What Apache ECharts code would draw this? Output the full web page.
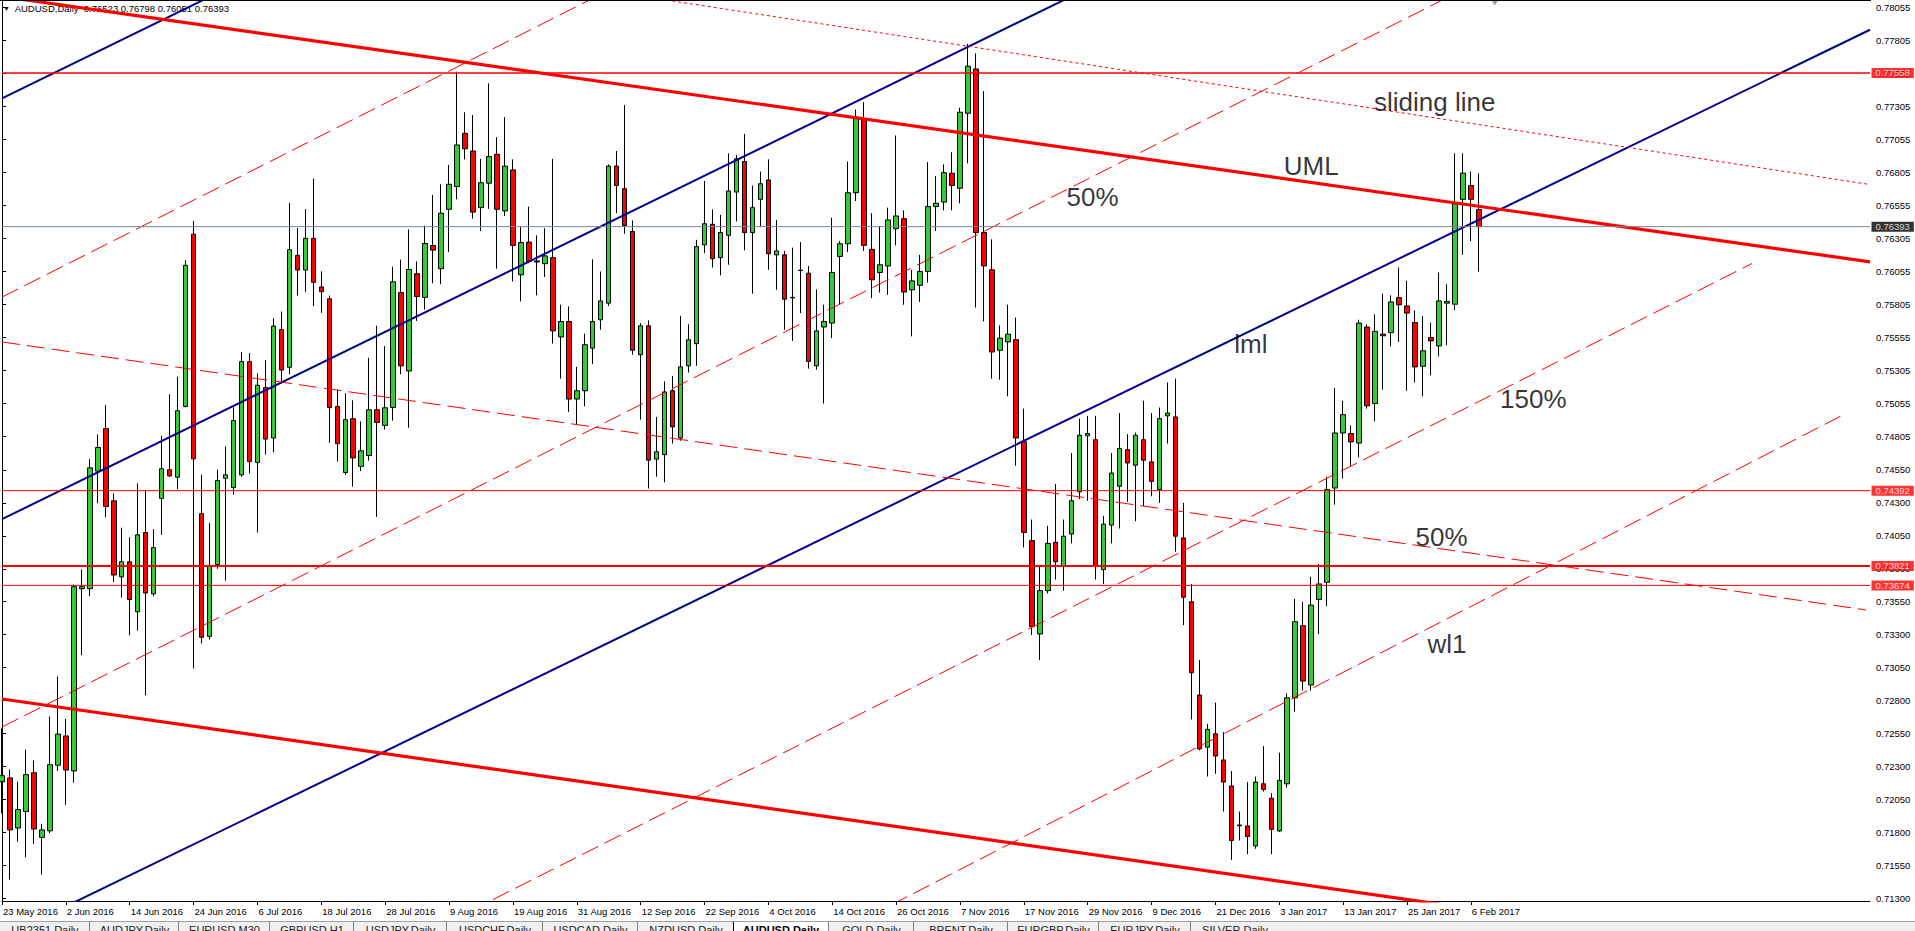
<!DOCTYPE html>
<html>
<head>
<meta charset="utf-8">
<script src="https://cdn.jsdelivr.net/npm/echarts/dist/echarts.min.js"></script>
<style>
  html, body { margin: 0; padding: 0; background: #fff; }
  #wrap { position: relative; width: 1915px; height: 931px; overflow: hidden; background: #fff; }
  #c { position: absolute; left: 0; top: 0; width: 1915px; height: 931px; }
  #topline { position: absolute; left: 0; top: 0; width: 1871px; height: 1px; background: #000; }
  #tabs { position: absolute; left: 0; top: 921px; width: 1915px; height: 10px; background: #f0f0f0;
          border-top: 1px solid #a0a0a0; overflow: hidden; font-family: "Liberation Sans", Arial, sans-serif; }
  .tab { position: absolute; top: 0; height: 12px; text-align: center; font-size: 11px; line-height: 13px;
         color: #202020; border-left: 1px solid #808080; box-sizing: border-box; padding-top: 2px; white-space: nowrap; }
  .tab.active { background: #fff; color: #000; font-weight: bold; border-left: 1px solid #000; border-right: 1px solid #000; top: -1px; padding-top: 3px; }
</style>
</head>
<body>
<div id="wrap">
  <div id="c"></div>
  <div id="topline"></div>
  <div id="tabs"></div>
</div>
<script>
// ---------- DATA ----------
const symbolName = 'AUDUSD';
const periodName = 'Daily';
const firstBarDate = '2016-05-23';
const holidays = ['2016-12-26'];
const futureSlots = 49;

const xTickLabels = ['23 May 2016','2 Jun 2016','14 Jun 2016','24 Jun 2016','6 Jul 2016','18 Jul 2016',
  '28 Jul 2016','9 Aug 2016','19 Aug 2016','31 Aug 2016','12 Sep 2016','22 Sep 2016','4 Oct 2016',
  '14 Oct 2016','26 Oct 2016','7 Nov 2016','17 Nov 2016','29 Nov 2016','9 Dec 2016','21 Dec 2016',
  '3 Jan 2017','13 Jan 2017','25 Jan 2017','6 Feb 2017'];

const yTickValues = [0.78055,0.77805,0.77555,0.77305,0.77055,0.76805,0.76555,0.76305,0.76055,0.75805,
  0.75555,0.75305,0.75055,0.74805,0.74550,0.74300,0.74050,0.73800,0.73550,0.73300,0.73050,0.72800,
  0.72550,0.72300,0.72050,0.71800,0.71550,0.71300];

const open = [
0.72186,0.72215,0.71835,0.71960,0.72254,0.71764,0.71814,0.72311,0.72533,0.72268,
0.73649,0.73649,0.74540,0.74862,0.74315,0.73739,0.73853,0.73474,0.74075,0.73610,
0.74333,0.74551,0.74494,0.75030,0.76336,0.74218,0.73288,0.73832,0.74486,0.74415,
0.74512,0.75370,0.74605,0.75173,0.74791,0.75613,0.75327,0.76175,0.76064,0.76304,
0.75936,0.75846,0.75030,0.74529,0.74937,0.74576,0.74658,0.75005,0.74887,0.75023,
0.75893,0.75299,0.76036,0.75857,0.76250,0.76074,0.76524,0.76697,0.77100,0.76966,
0.76537,0.76722,0.76941,0.76512,0.76823,0.76028,0.76276,0.76133,0.76112,0.76158,
0.75557,0.75674,0.75086,0.75149,0.75472,0.75687,0.75813,0.76852,0.76680,0.76356,
0.75422,0.75641,0.74631,0.74665,0.75149,0.74791,0.75338,0.75506,0.76255,0.76411,
0.76158,0.76327,0.76655,0.76886,0.76348,0.76600,0.76747,0.76179,0.76179,0.75853,
0.76063,0.76040,0.75338,0.75632,0.75662,0.76167,0.76263,0.76650,0.77210,0.76221,
0.76045,0.76095,0.76377,0.76453,0.75914,0.75948,0.76053,0.76545,0.76579,0.76798,
0.76684,0.77252,0.77588,0.76348,0.76066,0.75456,0.75519,0.75536,0.74762,0.74013,
0.73306,0.73634,0.74000,0.73819,0.74063,0.74383,0.74808,0.74778,0.73794,0.74131,
0.74425,0.74703,0.74585,0.74778,0.74610,0.74400,0.74959,0.74951,0.74034,0.73550,
0.72843,0.72448,0.72549,0.72351,0.72154,0.71852,0.71851,0.71699,0.72170,0.72061,
0.71813,0.72170,0.72822,0.73369,0.72919,0.73567,0.73697,0.74412,0.74829,0.74825,
0.74753,0.75632,0.75052,0.75578,0.75590,0.75855,0.75792,0.75666,0.75334,0.75552,
0.75489,0.75813,0.75805,0.76600,0.76705,0.76523];

const high = [
0.72590,0.72279,0.72186,0.72429,0.72347,0.71867,0.72680,0.72984,0.72662,0.73681,
0.73796,0.74630,0.74819,0.75041,0.74372,0.74111,0.74039,0.74447,0.74397,0.74100,
0.74808,0.75123,0.75256,0.76139,0.76436,0.74512,0.74147,0.74551,0.74726,0.75023,
0.75442,0.75435,0.75281,0.75381,0.75699,0.75750,0.76572,0.76383,0.76526,0.76758,
0.76054,0.75871,0.75159,0.75131,0.75077,0.74916,0.75399,0.75642,0.75488,0.76089,
0.76143,0.76372,0.76129,0.76401,0.76633,0.76714,0.76861,0.77567,0.77260,0.77239,
0.76907,0.77479,0.77071,0.77223,0.76903,0.76390,0.76545,0.76327,0.76381,0.76907,
0.75801,0.75788,0.75330,0.75582,0.76146,0.76053,0.76865,0.76966,0.77315,0.76440,
0.75662,0.75683,0.74951,0.75220,0.75262,0.75717,0.75653,0.76293,0.76739,0.76524,
0.76482,0.76949,0.76936,0.77096,0.76705,0.76810,0.76903,0.76444,0.76209,0.76234,
0.76276,0.76095,0.75918,0.75801,0.76461,0.76284,0.76886,0.77281,0.77336,0.76495,
0.76398,0.76537,0.77084,0.76516,0.76066,0.76179,0.76882,0.76777,0.76865,0.76957,
0.77294,0.77778,0.77706,0.77420,0.76297,0.75645,0.75801,0.75704,0.75014,0.74173,
0.73824,0.74126,0.74442,0.74173,0.74677,0.74938,0.74959,0.74959,0.74202,0.74677,
0.74980,0.74820,0.74833,0.75073,0.74980,0.75022,0.75212,0.75241,0.74299,0.73685,
0.73108,0.72625,0.72785,0.72562,0.72267,0.71960,0.72183,0.72225,0.72456,0.72099,
0.72406,0.72856,0.73571,0.73550,0.73739,0.73836,0.74497,0.75170,0.75073,0.74888,
0.75687,0.75653,0.75729,0.75885,0.75872,0.76083,0.75982,0.75759,0.75717,0.75666,
0.76045,0.75956,0.76949,0.76949,0.76810,0.76798];

const low = [
0.71946,0.71445,0.71731,0.71613,0.71714,0.71481,0.71796,0.72268,0.72011,0.72179,
0.73145,0.73592,0.74297,0.74190,0.73699,0.73581,0.73295,0.73331,0.72841,0.73592,
0.74057,0.74497,0.74404,0.75023,0.73045,0.73234,0.73263,0.73800,0.73710,0.74361,
0.74497,0.74522,0.74075,0.74665,0.74683,0.75202,0.75274,0.75871,0.75900,0.75792,
0.75739,0.74755,0.74612,0.74512,0.74422,0.74540,0.74619,0.74193,0.74855,0.74923,
0.75274,0.74869,0.75678,0.75764,0.75964,0.75956,0.76200,0.76600,0.76903,0.76453,
0.76360,0.76528,0.76074,0.76474,0.75977,0.75826,0.76116,0.75872,0.76011,0.75506,
0.75241,0.74989,0.74888,0.75031,0.75351,0.75611,0.75792,0.76495,0.76339,0.75422,
0.74930,0.74408,0.74497,0.74455,0.74749,0.74770,0.75287,0.75338,0.76192,0.76083,
0.76024,0.76104,0.76432,0.76213,0.75885,0.76390,0.76066,0.75914,0.75611,0.75527,
0.75738,0.75317,0.75309,0.75052,0.75548,0.75801,0.76200,0.76587,0.76209,0.75851,
0.75893,0.75876,0.76251,0.75801,0.75561,0.75822,0.75969,0.76360,0.76516,0.76516,
0.76570,0.76873,0.75780,0.75674,0.75241,0.75233,0.75107,0.74581,0.73962,0.73298,
0.73108,0.73613,0.73718,0.73634,0.73992,0.74328,0.74316,0.73718,0.73685,0.73992,
0.74105,0.74307,0.74160,0.74274,0.74349,0.74299,0.74749,0.73929,0.73373,0.72658,
0.72423,0.72225,0.72246,0.71960,0.71594,0.71741,0.71636,0.71678,0.72111,0.71636,
0.71805,0.72141,0.72717,0.72877,0.72877,0.73306,0.73516,0.74286,0.74484,0.74581,
0.74644,0.75014,0.74917,0.75157,0.75485,0.75519,0.75149,0.75212,0.75107,0.75266,
0.75409,0.75493,0.75759,0.76179,0.76284,0.76051];

const close = [
0.72232,0.71821,0.71975,0.72240,0.71828,0.71821,0.72315,0.72547,0.72275,0.73664,
0.73664,0.74565,0.74719,0.74272,0.73753,0.73853,0.73567,0.74057,0.73617,0.73960,
0.74558,0.74504,0.74998,0.76100,0.74633,0.73281,0.73825,0.74469,0.74512,0.74923,
0.75370,0.74612,0.75191,0.74783,0.75639,0.75306,0.76218,0.76064,0.76304,0.75971,
0.75900,0.75023,0.74748,0.74930,0.74640,0.74694,0.75005,0.74909,0.75020,0.75975,
0.75338,0.76068,0.75864,0.76265,0.76215,0.76495,0.76714,0.77012,0.76983,0.76503,
0.76726,0.76924,0.76524,0.76852,0.76251,0.76272,0.76129,0.76125,0.76171,0.75603,
0.75674,0.75086,0.75149,0.75498,0.75674,0.75830,0.76852,0.76705,0.76402,0.75456,
0.75641,0.74623,0.74686,0.75140,0.74875,0.75330,0.75536,0.76242,0.76415,0.76150,
0.76348,0.76663,0.76907,0.76348,0.76537,0.76718,0.76188,0.76209,0.75843,0.75857,
0.76060,0.75372,0.75603,0.75674,0.76045,0.76263,0.76650,0.77223,0.76251,0.75990,
0.76104,0.76444,0.76474,0.75897,0.75982,0.76053,0.76545,0.76570,0.76802,0.76705,
0.77260,0.77609,0.76348,0.76095,0.75443,0.75548,0.75578,0.74791,0.74076,0.73361,
0.73634,0.73992,0.73853,0.74047,0.74316,0.74812,0.74825,0.73819,0.74139,0.74526,
0.74711,0.74602,0.74812,0.74623,0.74463,0.74938,0.74980,0.74047,0.73584,0.73012,
0.72435,0.72583,0.72381,0.72183,0.71741,0.71858,0.71771,0.72183,0.72128,0.71825,
0.72196,0.72822,0.73399,0.72949,0.73525,0.73685,0.74400,0.74829,0.74968,0.74762,
0.75662,0.75035,0.75599,0.75565,0.75822,0.75801,0.75738,0.75330,0.75452,0.75527,
0.75830,0.75826,0.76566,0.76798,0.76600,0.76393];

// horizontal price levels
const levelPrices = [0.77558, 0.76393, 0.74392, 0.73821, 0.73674];

// trend lines: [[barIndex, price], [barIndex, price]]
const blueLines = [
  [[0, 0.77365], [234, 0.84284]],
  [[0, 0.74176], [234, 0.81097]],
  [[0, 0.71006], [234, 0.77885]]
];
const redThickLines = [
  [[0, 0.78137], [234, 0.76126]],
  [[0, 0.72813], [234, 0.70793]]
];
const redDashedLines = [
  [[0, 0.75519], [233.5, 0.73488]],
  [[0, 0.75859], [234, 0.83019]],
  [[0, 0.72601], [234, 0.79746]],
  [[0, 0.69413], [219.2, 0.76113]],
  [[0, 0.67782], [230.3, 0.74956]]
];
const redDottedLines = [
  [[0, 0.78882], [234, 0.76712]]
];

// text objects: [text, barIndex, price]
const textNotes = [
  ['sliding line', 171.8, 0.77339],
  ['UML', 160.5, 0.76852],
  ['50%', 133.3, 0.76621],
  ['lml', 154.3, 0.75500],
  ['150%', 187.6, 0.75089],
  ['50%', 177.0, 0.74044],
  ['wl1', 178.5, 0.73228]
];
const arrowMarks = [[187.0, 0.78099]];

const tabNames = ['UB2351,Daily','AUDJPY,Daily','EURUSD,M30','GBPUSD,H1','USDJPY,Daily','USDCHF,Daily',
  'USDCAD,Daily','NZDUSD,Daily','AUDUSD,Daily','GOLD,Daily','BRENT,Daily','EURGBP,Daily','EURJPY,Daily','SILVER,Daily'];
const activeTab = 'AUDUSD,Daily';

// ---------- LAYOUT / STYLE ----------
const FONT = '"Liberation Sans", Arial, sans-serif';
const tabEdges = [0, 89, 178, 269, 353, 446, 542, 637, 733, 828, 913, 1007, 1098, 1190, 1278];
const levelStyles = [
  { color: '#ff0000', width: 1.5, box: '#ff0000' },
  { color: '#778899', width: 1, box: '#000000' },
  { color: '#ff0000', width: 1, box: '#ff0000' },
  { color: '#ff0000', width: 2, box: '#ff0000' },
  { color: '#ff0000', width: 1, box: '#ff0000' }
];

function buildCategories(total) {
  const out = [];
  const p = firstBarDate.split('-').map(Number);
  const d = new Date(Date.UTC(p[0], p[1] - 1, p[2]));
  while (out.length < total) {
    const wd = d.getUTCDay();
    const s = d.toISOString().slice(0, 10);
    if (wd !== 0 && wd !== 6 && holidays.indexOf(s) < 0) out.push(s);
    d.setUTCDate(d.getUTCDate() + 1);
  }
  return out;
}
const barCount = open.length;
const categories = buildCategories(barCount + futureSlots);
const lastIdx = categories.length - 1;
const labelStep = 8;
const lastLabelIdx = (xTickLabels.length - 1) * labelStep;
const showTick = function (index) { return index % labelStep === 0 && index <= lastLabelIdx; };

const candleData = open.map(function (o, i) { return [o, close[i], low[i], high[i]]; });

function lineSeries(pts, color, width, type, z) {
  return {
    type: 'line', xAxisIndex: 1, yAxisIndex: 0, data: pts, symbol: 'none', silent: true,
    clip: true, z: z || 3, animation: false,
    lineStyle: { color: color, width: width, type: type }
  };
}

const series = [];
series.push({
  type: 'candlestick', xAxisIndex: 0, yAxisIndex: 0, data: candleData, barWidth: 5, clip: true, z: 2,
  itemStyle: { color: '#32cd32', color0: '#ff0000', borderColor: '#000', borderColor0: '#000',
               borderColorDoji: '#000', borderWidth: 1 }
});
blueLines.forEach(function (l) { series.push(lineSeries(l, '#00008b', 2, 'solid')); });
redThickLines.forEach(function (l) { series.push(lineSeries(l, '#ff0000', 3.2, 'solid')); });
redDashedLines.forEach(function (l) { series.push(lineSeries(l, '#ff0000', 1, [18, 7])); });
redDottedLines.forEach(function (l) { series.push(lineSeries(l, '#ff0000', 1, [3, 3])); });

// horizontal levels: lines across the grid + price boxes at the axis
levelPrices.forEach(function (v, i) {
  const st = levelStyles[i];
  series.push(lineSeries([[0, v], [lastIdx, v]], st.color, st.width, 'solid', 4));
});
series.push({
  type: 'scatter', xAxisIndex: 1, yAxisIndex: 0, symbol: 'rect', symbolSize: 1, clip: false, z: 6, silent: true,
  itemStyle: { color: 'rgba(0,0,0,0)' },
  data: levelPrices.map(function (v, i) {
    return {
      value: [lastIdx, v],
      label: { formatter: v.toFixed(5), backgroundColor: levelStyles[i].box }
    };
  }),
  label: {
    show: true, position: 'right', distance: 1, color: '#fff', fontSize: 9.5, fontFamily: FONT,
    lineHeight: 10, padding: [0, 4, 0, 4]
  }
});

series.push({
  type: 'scatter', xAxisIndex: 1, yAxisIndex: 0, symbol: 'circle', symbolSize: 1, z: 5, silent: true,
  itemStyle: { color: 'rgba(0,0,0,0)' },
  data: textNotes.map(function (n) {
    return { value: [n[1], n[2]], label: { formatter: n[0] } };
  }),
  label: { show: true, position: 'right', distance: 0, fontSize: 26, color: '#000', fontFamily: FONT }
});

series.push({
  type: 'scatter', xAxisIndex: 1, yAxisIndex: 0, symbol: 'triangle', symbolRotate: 180,
  symbolSize: [10, 8], z: 5, silent: true, itemStyle: { color: '#7b8794' }, data: arrowMarks
});

const last = barCount - 1;
const headerText = '{t|▼}  ' + symbolName + ',' + periodName + '  ' +
  [open[last], high[last], low[last], close[last]].map(function (v) { return v.toFixed(5); }).join(' ');

const option = {
  animation: false,
  backgroundColor: '#ffffff',
  textStyle: { fontFamily: FONT },
  title: {
    text: headerText, left: 3, top: 3, padding: 0, z: 1,
    textStyle: { fontSize: 9.5, fontWeight: 'normal', color: '#000', fontFamily: FONT,
      rich: { t: { fontSize: 7, color: '#000' } } }
  },
  grid: { left: 0, top: 1, width: 1870, height: 900, containLabel: false },
  xAxis: [
    {
      type: 'category', data: categories, boundaryGap: false,
      axisLine: { show: true, lineStyle: { color: '#000', width: 1 } },
      axisTick: { show: true, interval: showTick, length: 4, lineStyle: { color: '#000' } },
      axisLabel: {
        show: true, interval: showTick, align: 'left', margin: 5, fontSize: 9.5, color: '#000',
        fontFamily: FONT, padding: [0, 0, 0, 1],
        formatter: function (value, index) { return xTickLabels[Math.round(index / labelStep)] || ''; }
      },
      splitLine: { show: false }
    },
    { type: 'value', min: 0, max: lastIdx, show: false, splitLine: { show: false } }
  ],
  yAxis: {
    type: 'value', position: 'right', min: 0.71282, max: 0.78103, scale: true,
    axisLine: { show: true, lineStyle: { color: '#000', width: 1 } },
    axisTick: { show: true, customValues: yTickValues, length: 4, lineStyle: { color: '#000' } },
    axisLabel: { show: true, customValues: yTickValues, margin: 6, fontSize: 9.5, color: '#000',
      fontFamily: FONT, formatter: function (v) { return Number(v).toFixed(5); } },
    splitLine: { show: false }
  },
  series: series
};

const chart = echarts.init(document.getElementById('c'), null, { renderer: 'svg', width: 1915, height: 931 });
chart.setOption(option);

// tab bar
const tabsEl = document.getElementById('tabs');
tabNames.forEach(function (name, i) {
  const el = document.createElement('div');
  el.className = 'tab' + (name === activeTab ? ' active' : '');
  el.style.left = tabEdges[i] + 'px';
  el.style.width = (tabEdges[i + 1] - tabEdges[i] + 1) + 'px';
  if (i === 0) el.style.borderLeft = 'none';
  el.textContent = name;
  tabsEl.appendChild(el);
});
</script>
</body>
</html>
